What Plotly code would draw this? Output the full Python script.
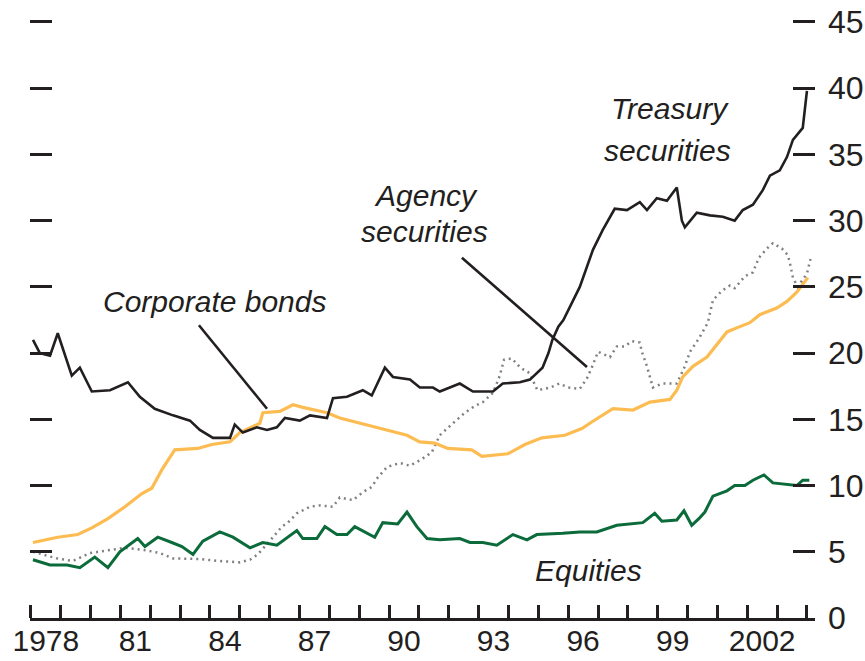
import plotly.graph_objects as go

# ---------------- data (share of total, percent) ----------------
tr_x = [1978.07, 1978.30, 1978.64, 1978.90, 1979.37, 1979.64, 1980.04, 1980.65, 1981.25, 1981.65,
        1982.15, 1982.76, 1983.33, 1983.66, 1984.10, 1984.67, 1984.83, 1985.10, 1985.57, 1985.91,
        1986.24, 1986.51, 1987.01, 1987.35, 1987.92, 1988.12, 1988.59, 1989.12, 1989.42, 1989.86,
        1990.13, 1990.70, 1991.03, 1991.47, 1991.70, 1992.37, 1992.81, 1993.15, 1993.48, 1993.81,
        1994.38, 1994.72, 1994.95, 1995.14, 1995.34, 1995.47, 1995.67, 1995.84, 1996.39, 1996.83,
        1997.16, 1997.56, 1997.97, 1998.40, 1998.64, 1998.97, 1999.31, 1999.64, 1999.81, 1999.91,
        2000.31, 2000.75, 2001.18, 2001.58, 2001.85, 2002.19, 2002.52, 2002.76, 2003.09, 2003.33,
        2003.53, 2003.86, 2004.00]
tr_y = [21.0, 20.0, 19.8, 21.5, 18.3, 18.9, 17.1, 17.2, 17.8, 16.7,
        15.8, 15.3, 14.9, 14.2, 13.6, 13.6, 14.6, 14.0, 14.4, 14.2,
        14.4, 15.1, 14.9, 15.3, 15.1, 16.6, 16.7, 17.2, 16.8, 18.9,
        18.2, 18.0, 17.4, 17.4, 17.1, 17.7, 17.1, 17.1, 17.1, 17.7,
        17.8, 18.0, 18.5, 18.9, 20.0, 21.0, 22.0, 22.5, 25.0, 27.8,
        29.3, 30.9, 30.8, 31.4, 30.8, 31.7, 31.5, 32.5, 30.0, 29.5,
        30.6, 30.4, 30.3, 30.0, 30.8, 31.2, 32.3, 33.4, 33.8, 34.8,
        36.1, 37.0, 39.8]

cb_x = [1978.07, 1978.90, 1979.57, 1980.04, 1980.58, 1981.15, 1981.72, 1982.05, 1982.39, 1982.72,
        1982.82, 1983.59, 1984.06, 1984.67, 1985.00, 1985.67, 1985.77, 1986.34, 1986.78, 1987.11,
        1987.92, 1988.35, 1989.02, 1989.93, 1990.60, 1991.03, 1991.53, 1991.97, 1992.77, 1993.11,
        1993.98, 1994.55, 1995.12, 1995.89, 1996.46, 1996.79, 1997.50, 1998.17, 1998.74, 1999.41,
        1999.64, 1999.84, 2000.18, 2000.65, 2000.98, 2001.32, 2001.75, 2002.09, 2002.42, 2002.99,
        2003.33, 2003.66, 2004.03]
cb_y = [5.7, 6.1, 6.3, 6.8, 7.5, 8.4, 9.4, 9.8, 11.2, 12.4,
        12.7, 12.8, 13.1, 13.3, 14.0, 14.7, 15.5, 15.6, 16.1, 15.9,
        15.5, 15.1, 14.7, 14.2, 13.8, 13.3, 13.2, 12.8, 12.7, 12.2,
        12.4, 13.1, 13.6, 13.8, 14.3, 14.8, 15.8, 15.7, 16.3, 16.5,
        17.2, 18.2, 19.0, 19.7, 20.6, 21.6, 22.0, 22.3, 22.9, 23.4,
        23.9, 24.6, 25.7]

ag_x = [1978.07, 1978.50, 1978.87, 1979.40, 1979.98, 1980.55, 1981.15, 1981.89, 1982.32, 1982.76,
        1983.66, 1984.33, 1985.00, 1985.34, 1985.60, 1986.11, 1986.41, 1986.61, 1986.91, 1987.35,
        1987.68, 1988.12, 1988.35, 1988.79, 1989.12, 1989.42, 1989.62, 1989.93, 1990.36, 1990.70,
        1991.03, 1991.43, 1991.70, 1992.14, 1992.54, 1992.87, 1993.14, 1993.48, 1993.71, 1993.85,
        1994.11, 1994.40, 1994.70, 1994.97, 1995.40, 1995.70, 1996.00, 1996.39, 1996.63, 1996.79,
        1997.00, 1997.40, 1997.63, 1997.90, 1998.13, 1998.40, 1998.47, 1998.64, 1998.84, 1999.14,
        1999.64, 1999.91, 2000.08, 2000.38, 2000.68, 2000.85, 2001.15, 2001.42, 2001.58, 2001.92,
        2002.19, 2002.39, 2002.66, 2002.86, 2003.16, 2003.36, 2003.43, 2003.53, 2003.69, 2004.00,
        2004.12]
ag_y = [5.0, 4.7, 4.5, 4.3, 4.9, 5.1, 5.3, 5.1, 4.9, 4.5,
        4.45, 4.3, 4.2, 4.4, 4.8, 6.1, 6.9, 7.2, 7.9, 8.4,
        8.5, 8.4, 9.1, 8.9, 9.5, 9.9, 10.6, 11.4, 11.7, 11.5,
        11.9, 12.5, 13.8, 14.7, 15.5, 16.0, 16.3, 17.0, 18.3, 19.5,
        19.6, 18.9, 18.5, 17.2, 17.4, 17.7, 17.4, 17.3, 18.1, 18.9,
        20.1, 19.7, 20.5, 20.5, 20.9, 20.8, 20.1, 19.0, 17.4, 17.7,
        17.7, 19.0, 20.1, 21.1, 22.3, 24.0, 24.7, 25.1, 24.9, 25.8,
        26.1, 27.2, 27.9, 28.3, 27.9, 27.4, 26.8, 25.7, 25.0, 26.0,
        27.1]

eq_x = [1978.07, 1978.64, 1979.21, 1979.64, 1980.14, 1980.58, 1980.98, 1981.58, 1981.82, 1982.25,
        1982.72, 1983.06, 1983.43, 1983.76, 1984.33, 1984.77, 1985.34, 1985.77, 1986.24, 1986.91,
        1987.11, 1987.58, 1987.85, 1988.25, 1988.59, 1988.85, 1989.52, 1989.79, 1990.29, 1990.60,
        1990.93, 1991.27, 1991.70, 1992.37, 1992.71, 1993.14, 1993.61, 1994.15, 1994.62, 1994.95,
        1995.82, 1996.39, 1996.96, 1997.63, 1998.50, 1998.90, 1999.14, 1999.64, 1999.88, 2000.14,
        2000.38, 2000.58, 2000.85, 2001.32, 2001.58, 2001.92, 2002.19, 2002.56, 2002.86, 2003.33,
        2003.66, 2003.86, 2004.08]
eq_y = [4.4, 4.0, 4.0, 3.8, 4.6, 3.8, 5.0, 6.0, 5.4, 6.1,
        5.7, 5.4, 4.8, 5.8, 6.5, 6.1, 5.3, 5.7, 5.5, 6.6,
        6.0, 6.0, 6.9, 6.3, 6.3, 6.9, 6.1, 7.2, 7.1, 8.0,
        6.9, 6.0, 5.9, 6.0, 5.7, 5.7, 5.5, 6.3, 5.9, 6.3,
        6.4, 6.5, 6.5, 7.0, 7.2, 7.9, 7.3, 7.4, 8.1, 7.0,
        7.5, 8.0, 9.2, 9.6, 10.0, 10.0, 10.4, 10.8, 10.2, 10.1,
        10.0, 10.4, 10.4]

year_ticks = list(range(1978, 2005))
label_years = [1978, 1981, 1984, 1987, 1990, 1993, 1996, 1999, 2002]
label_text = ["1978", "81", "84", "87", "90", "93", "96", "99", "2002"]
y_ticks = [0, 5, 10, 15, 20, 25, 30, 35, 40, 45]

FONT = "Liberation Sans, Arial, Helvetica, sans-serif"
INK = "#231f20"

fig = go.Figure()
fig.add_trace(go.Scatter(x=ag_x, y=ag_y, mode="lines", name="Agency securities",
                         line=dict(color="#808080", width=2.5, dash="2px,4px")))
fig.add_trace(go.Scatter(x=eq_x, y=eq_y, mode="lines", name="Equities",
                         line=dict(color="#0b6b3a", width=3)))
fig.add_trace(go.Scatter(x=cb_x, y=cb_y, mode="lines", name="Corporate bonds",
                         line=dict(color="#fdbc52", width=3.2)))
fig.add_trace(go.Scatter(x=tr_x, y=tr_y, mode="lines", name="Treasury securities",
                         line=dict(color=INK, width=2.6)))

# leader lines
fig.add_shape(type="line", x0=1983.63, y0=22.1, x1=1985.91, y1=15.8,
              line=dict(color=INK, width=2.6))
fig.add_shape(type="line", x0=1992.44, y0=27.2, x1=1996.63, y1=18.95,
              line=dict(color=INK, width=2.6))

ann_font = dict(family=FONT, size=30, color=INK)
labels = [
    ("<i>Treasury</i>", 1999.41, 38.5),
    ("<i>securities</i>", 1999.34, 35.3),
    ("<i>Agency</i>", 1991.23, 31.9),
    ("<i>securities</i>", 1991.20, 29.2),
    ("<i>Corporate bonds</i>", 1984.16, 23.9),
    ("<i>Equities</i>", 1996.69, 3.6),
]
for txt, x, y in labels:
    fig.add_annotation(text=txt, x=x, y=y, xref="x", yref="y", showarrow=False,
                       font=ann_font, xanchor="center", yanchor="middle")

fig.update_layout(
    width=865, height=661,
    margin=dict(l=30, r=50, t=20, b=43),
    paper_bgcolor="white", plot_bgcolor="white",
    showlegend=False,
    font=dict(family=FONT, size=32, color=INK),
)
fig.update_xaxes(
    range=[1977.97, 2004.27], automargin=False,
    showgrid=False, zeroline=False,
    showline=True, linecolor=INK, linewidth=3,
    tickmode="array", tickvals=[y + 0.5 for y in label_years], ticktext=label_text,
    ticks="", ticklabelstandoff=-6,
    tickfont=dict(family=FONT, size=30, color=INK),
    minor=dict(tickmode="array", tickvals=year_ticks, ticks="inside", ticklen=13,
               tickwidth=2.5, tickcolor=INK, showgrid=False),
)
fig.update_yaxes(
    range=[0, 45.15], side="right", automargin=False,
    showgrid=False, zeroline=False, showline=False,
    tickmode="array", tickvals=y_ticks,
    ticks="inside", ticklen=22, tickwidth=2.5, tickcolor=INK,
    mirror="ticks", ticklabelstandoff=12,
    tickfont=dict(family=FONT, size=32, color=INK),
)

fig.write_html("out.html", config={"displayModeBar": False},
               post_script="document.body.style.margin='0px';")
